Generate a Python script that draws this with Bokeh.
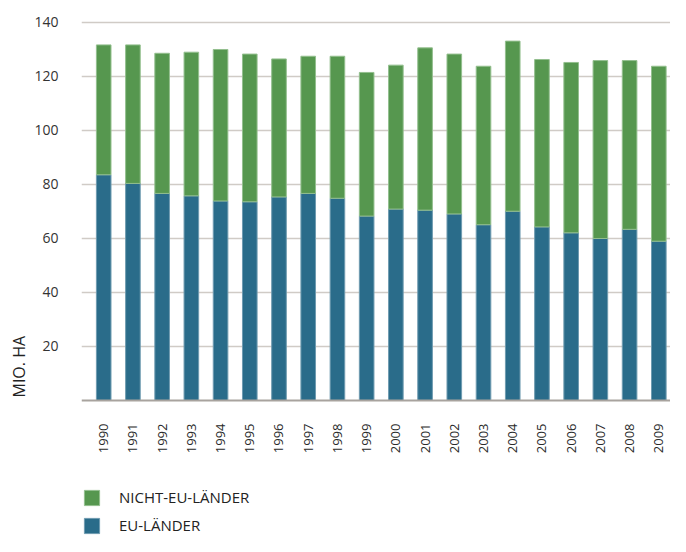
from math import pi
from bokeh.plotting import figure
from bokeh.models import (ColumnDataSource, Range1d, FixedTicker, Legend, LegendItem, Title)
from bokeh.embed import file_html
from bokeh.resources import INLINE

years = [1990, 1991, 1992, 1993, 1994, 1995, 1996, 1997, 1998, 1999,
         2000, 2001, 2002, 2003, 2004, 2005, 2006, 2007, 2008, 2009]
eu_laender = [83.6, 80.4, 76.7, 75.8, 73.9, 73.6, 75.4, 76.7, 74.9, 68.3,
              70.9, 70.5, 69.1, 65.1, 70.1, 64.3, 62.1, 60.0, 63.4, 59.0]
nicht_eu_laender = [48.1, 51.3, 51.9, 53.2, 56.1, 54.7, 51.1, 50.8, 52.6, 53.2,
                    53.3, 60.1, 59.2, 58.7, 63.0, 62.0, 63.1, 65.9, 62.5, 64.8]
y_ticks = [20, 40, 60, 80, 100, 120, 140]
series_labels = ["EU-LÄNDER", "NICHT-EU-LÄNDER"]
y_label = "MIO. HA"

BLUE = "#2a6c8a"
GREEN = "#56974f"
FONT = "Open Sans"

source = ColumnDataSource(dict(year=years, eu=eu_laender, neu=nicht_eu_laender))

# frame spans the full lower area so that the legend can sit inside it;
# the x axis is pinned at y = 0
p = figure(width=670, height=536, output_backend="svg", toolbar_location=None,
           x_range=Range1d(1989.24, 2009.4), y_range=Range1d(-50.37, 142.22),
           min_border_left=81, min_border_right=0, min_border_top=16, min_border_bottom=0)
p.outline_line_color = None
p.background_fill_color = "white"
p.border_fill_color = "white"

renderers = p.vbar_stack(["eu", "neu"], x="year", width=0.5, source=source,
                         fill_color=[BLUE, GREEN],
                         line_color=["#6f9bb0", "#93bf8e"], line_width=1)

# axes
p.xaxis.fixed_location = 0
p.xaxis.ticker = FixedTicker(ticks=years)
p.xaxis.major_label_orientation = pi / 2
p.xaxis.major_label_standoff = 17
p.xaxis.major_label_text_font = FONT
p.xaxis.major_label_text_font_size = "13px"
p.xaxis.major_label_text_color = "#2a2a2a"
p.xaxis.major_tick_line_color = None
p.xaxis.minor_tick_line_color = None
p.xaxis.axis_line_color = "#a8a39e"
p.xaxis.axis_line_width = 2

p.yaxis.ticker = FixedTicker(ticks=y_ticks)
p.yaxis.major_label_standoff = 17
p.yaxis.major_label_text_font = FONT
p.yaxis.major_label_text_font_size = "14px"
p.yaxis.major_label_text_color = "#333333"
p.yaxis.major_tick_line_color = None
p.yaxis.minor_tick_line_color = None
p.yaxis.axis_line_color = None

p.xgrid.grid_line_color = None
p.ygrid.grid_line_color = "#d0cbc6"
p.ygrid.grid_line_width = 1.5

# y axis title placed near the bottom of the bars like the reference
ytitle = Title(text=y_label, align="left", text_font=FONT, text_font_size="16px",
               text_font_style="normal", text_color="#222222", standoff=3, offset=139)
p.add_layout(ytitle, "left")

legend = Legend(items=[LegendItem(label=series_labels[1], renderers=[renderers[1]]),
                       LegendItem(label=series_labels[0], renderers=[renderers[0]])],
                location=(1, 1), orientation="vertical",
                glyph_width=19, glyph_height=19, label_height=19, spacing=8,
                label_standoff=18, padding=0, margin=0,
                label_text_font=FONT, label_text_font_size="15px",
                label_text_color="#222222",
                border_line_color=None, background_fill_alpha=0)
p.add_layout(legend, "center")

open("out.html", "w").write(file_html(p, INLINE))
